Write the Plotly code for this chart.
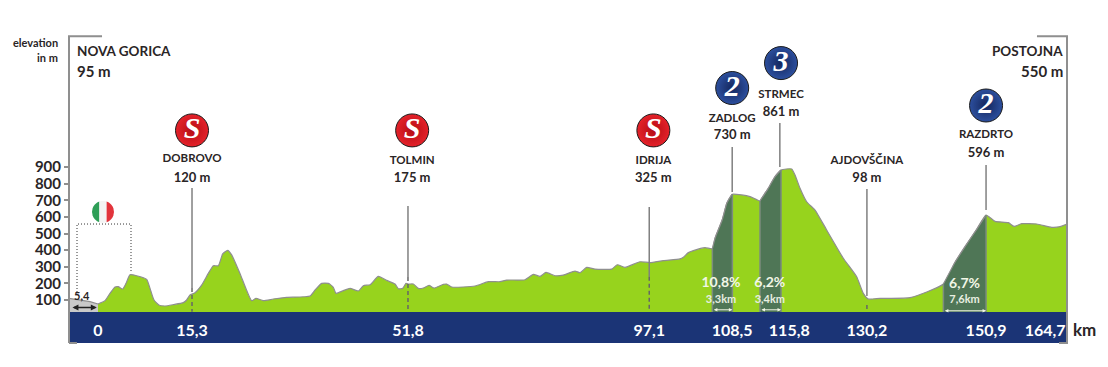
import numpy as np
import plotly.graph_objects as go

# ---- data ----
neutral_km = [-4.93, -3.06, -1.36, 0.0]
neutral_elev = [110, 100, 90, 76]

profile_km = [0.0, 1.19, 2.04, 2.89, 3.45, 4.19, 4.76, 5.44, 6.57, 8.27, 8.84, 9.52, 10.42, 11.39, 12.8, 14.5, 15.07,
              15.64, 16.49, 17.62, 18.75, 19.6, 20.45, 21.19, 22.04, 22.72, 24.13, 26.12, 26.85, 28.1, 29.8, 32.07,
              36.04, 36.89, 38.02, 39.16, 40.0, 40.46, 41.7, 42.84, 44.26, 45.1, 46.24, 47.65, 49.07, 50.49, 51.05,
              51.79, 52.36, 52.75, 53.6, 54.45, 55.3, 56.27, 57.12, 58.7, 59.27, 60.12, 64.09, 66.35, 68.34, 69.47,
              72.58, 74.0, 75.14, 76.15, 77.68, 79.1, 81.08, 81.93, 83.07, 84.49, 87.32, 88.28, 89.58, 92.13, 93.83,
              96.1, 98.93, 99.5, 100.35, 101.2, 103.18, 104.43, 104.9, 106.1, 106.9, 107.6, 107.83, 109.41, 110.83,
              112.53, 112.81, 113.77, 115.08, 116.1, 117.91, 118.48, 119.33, 120.46, 121.88, 123.86, 126.69, 128.96,
              130.09, 130.94, 132.93, 138.03, 143.7, 145.68, 147.38, 149.36, 150.95, 152.48, 154.74, 155.71, 157.01,
              159.56, 162.11, 163.53, 164.71]
profile_elev = [76, 96, 140, 178, 180, 166, 200, 252, 246, 224, 170, 100, 68, 64, 72, 84, 100,
                130, 144, 190, 260, 306, 306, 377, 399, 371, 260, 96, 110, 96, 106, 116,
                124, 160, 200, 200, 176, 140, 156, 170, 154, 186, 192, 242, 218, 196, 168,
                170, 200, 196, 196, 170, 172, 188, 172, 194, 196, 178, 184, 210, 210, 220,
                222, 254, 242, 266, 246, 250, 274, 264, 296, 286, 286, 312, 296, 330, 325,
                337, 347, 357, 385, 397, 415, 409, 473, 581, 683, 726, 736, 732, 722,
                696, 712, 762, 842, 882, 888, 852, 772, 691, 641, 521, 351, 240,
                140, 106, 110, 114, 196, 327, 421, 525, 611, 573, 565, 543, 559,
                557, 537, 541, 557]

climb_ranges = [(104.43, 107.83), (112.53, 116.1), (143.7, 150.95)]
climb_pct = ["10,8%", "6,2%", "6,7%"]
climb_len = ["3,3km", "3,4km", "7,6km"]
climb_label_x = [105.9, 114.2, 147.3]
climb_pct_y = [197, 197, 191]
climb_len_y = [99, 99, 100]
climb_arrow_y = [41, 41, 35]

tick_pos = [0, 15.98, 52.69, 93.7, 107.8, 117.5, 130.7, 150.95, 161.0]
tick_text = ["0", "15,3", "51,8", "97,1", "108,5", "115,8", "130,2", "150,9", "164,7"]
elev_ticks = [100, 200, 300, 400, 500, 600, 700, 800, 900]

place_names = ["DOBROVO", "TOLMIN", "IDRIJA", "ZADLOG", "STRMEC", "AJDOVŠČINA", "RAZDRTO"]
place_heights = ["120 m", "175 m", "325 m", "730 m", "861 m", "98 m", "596 m"]
place_x = [15.98, 53.4, 94.4, 107.8, 116.1, 130.7, 150.95]
name_y = [945, 935, 935, 1185, 1335, 935, 1090]
height_y = [830, 830, 830, 1085, 1225, 830, 980]

line_x = [15.98, 52.69, 93.7, 107.8, 115.9, 130.7, 150.95]
line_top = [774, 665, 660, 1020, 1165, 768, 912]
line_bottom = [172, 238, 240, 750, 900, 124, 641]
dash_x = [15.98, 52.69, 93.7, 130.7]
dash_top = [172, 238, 240, 70]
dash_bottom = [30, 30, 40, 40]

badge_x = [15.98, 53.4, 94.4, 107.8, 116.1, 150.95]
badge_y = [1120, 1120, 1120, 1375, 1525, 1270]
badge_text = ["S", "S", "S", "2", "3", "2"]
badge_color = ["#e5222a", "#e5222a", "#e5222a", "#2c4f9e", "#2c4f9e", "#2c4f9e"]
badge_edge = ["#b40d14", "#b40d14", "#b40d14", "#14265c", "#14265c", "#14265c"]

box_x = [-3.57, -3.57, 5.61, 5.61]
box_y = [130, 557, 557, 262]

INK = "#2a2526"
GRAY = "#8f8f8f"
FONT = "Lato"
km = np.array(profile_km)
elev = np.array(profile_elev)

fig = go.Figure()
fig.add_trace(go.Scatter(x=neutral_km, y=neutral_elev, mode="lines", fill="tozeroy", fillcolor="#c9c9c9",
                         line=dict(color=GRAY, width=1.2)))
fig.add_trace(go.Scatter(x=km, y=elev, mode="lines", fill="tozeroy", fillcolor="#97d31d",
                         line=dict(color=GRAY, width=1.2, shape="spline", smoothing=0.5)))
for lo, hi in climb_ranges:
    m = (km >= lo) & (km <= hi)
    fig.add_trace(go.Scatter(x=km[m], y=elev[m], mode="lines", fill="tozeroy", fillcolor="#4f7656",
                             line=dict(color=GRAY, width=1.2, shape="spline", smoothing=0.5)))
    for edge in (lo, hi):
        fig.add_trace(go.Scatter(x=[edge, edge], y=[0, elev[km == edge][0]], mode="lines",
                                 line=dict(color="#7b8b7e", width=1.5)))

for x, t, b in zip(line_x, line_top, line_bottom):
    fig.add_trace(go.Scatter(x=[x, x], y=[t, b], mode="lines", line=dict(color="#808080", width=1.5)))
for x, t, b in zip(dash_x, dash_top, dash_bottom):
    fig.add_trace(go.Scatter(x=[x, x], y=[t, b], mode="lines", line=dict(color="#666666", width=1.5, dash="4px,3px")))
fig.add_trace(go.Scatter(x=box_x, y=box_y, mode="lines", line=dict(color="#333333", width=1, dash="1px,2px")))

fig.add_trace(go.Scatter(x=badge_x, y=badge_y, mode="markers+text", text=badge_text, textposition="middle center",
                         marker=dict(size=33, color=badge_color, line=dict(color="#1a1a1a", width=1),
                                     gradient=dict(type="radial", color=badge_edge)),
                         textfont=dict(family="Liberation Serif", size=30, color="white", weight="bold", style="italic")))
fig.add_trace(go.Scatter(x=place_x, y=name_y, mode="text", text=place_names,
                         textfont=dict(family=FONT, size=11.5, color=INK, weight="bold")))
fig.add_trace(go.Scatter(x=place_x, y=height_y, mode="text", text=place_heights,
                         textfont=dict(family=FONT, size=13, color=INK, weight="bold")))
fig.add_trace(go.Scatter(x=climb_label_x, y=climb_pct_y, mode="text", text=climb_pct,
                         textfont=dict(family=FONT, size=14, color="#f2f7e6", weight="bold")))
fig.add_trace(go.Scatter(x=climb_label_x, y=climb_len_y, mode="text", text=climb_len,
                         textfont=dict(family=FONT, size=11, color="#e8efe0", weight="bold")))

ann = []
def label(x, y, text, size, anchor="center", xref="x", yref="y"):
    ann.append(dict(x=x, y=y, xref=xref, yref=yref, text=text, showarrow=False, xanchor=anchor, yanchor="middle",
                    font=dict(family=FONT, size=size, color=INK, weight="bold")))

label(-3.95, 1600, "NOVA GORICA", 13.5, "left")
label(-3.95, 1480, "95 m", 15, "left")
label(164.3, 1600, "POSTOJNA", 13.5, "right")
label(164.3, 1480, "550 m", 15, "right")
label(-0.009, 0.864, "elevation", 11, "right", "paper", "paper")
label(-0.009, 0.815, "in m", 11, "right", "paper", "paper")
label(1.018, -0.0545, "km", 17, "center", "paper", "paper")
label(-2.7, 130, "5,4", 11)

for (lo, hi), yv in zip(climb_ranges, climb_arrow_y):
    ann.append(dict(x=hi, y=yv, ax=lo, ay=yv, xref="x", yref="y", axref="x", ayref="y", text="", showarrow=True,
                    arrowhead=2, arrowside="end+start", arrowsize=0.7, arrowwidth=1, arrowcolor="#f2f7e6"))
ann.append(dict(x=-0.2, y=55, ax=-4.6, ay=55, xref="x", yref="y", axref="x", ayref="y", text="", showarrow=True,
                arrowhead=2, arrowside="end+start", arrowsize=0.8, arrowwidth=1.5, arrowcolor="#222222"))

def disc_part(x0, x1, r=11):
    """Slice of a disc between two horizontal pixel offsets, as a pixel path."""
    xs = np.linspace(x0, x1, 14)
    top = np.sqrt(np.maximum(r * r - xs * xs, 0))
    pts = list(zip(xs, top)) + list(zip(xs[::-1], -top[::-1]))
    return "M" + " L".join(f"{a:.2f} {b:.2f}" for a, b in pts) + " Z"

FLAG_X, FLAG_Y = 0.85, 630
shapes = [dict(type="path", path=disc_part(a, b), xsizemode="pixel", ysizemode="pixel", xanchor=FLAG_X, yanchor=FLAG_Y,
               xref="x", yref="y", fillcolor=c, line=dict(width=0), layer="above")
          for a, b, c in [(-11, -3.6, "#2e9e57"), (-3.6, 3.6, "#f4f4f4"), (3.6, 11, "#e2343c")]]
# navy distance band and page frame
shapes.append(dict(type="rect", xref="x", yref="paper", x0=-4.93, x1=164.71, y0=-0.0994, y1=0,
                   fillcolor="#1b3476", line=dict(width=0), layer="below"))
frame = dict(type="path", xref="paper", yref="paper", line=dict(color=GRAY, width=2), layer="above")
shapes.append({**frame, "path": "M 0 -0.0994 L 0 0.884 L 0.0331 0.884"})
shapes.append({**frame, "path": "M 0 -0.0994 L 0.008 -0.0994"})
shapes.append({**frame, "path": "M 0.9699 0.884 L 1 0.884 L 1 -0.0994 L 0.992 -0.0994"})

fig.update_layout(
    width=1108, height=367, showlegend=False, paper_bgcolor="white", plot_bgcolor="white",
    margin=dict(l=69, r=41, t=0, b=55), shapes=shapes, annotations=ann,
    xaxis=dict(range=[-4.93, 164.71], showgrid=False, zeroline=False, showline=False, tickmode="array",
               tickvals=tick_pos, ticktext=tick_text, ticks="", ticklabelstandoff=7,
               tickfont=dict(family=FONT, size=16, color="white", weight="bold")),
    yaxis=dict(range=[27.8, 1904.5], showgrid=False, zeroline=False, showline=False, tickmode="array",
               tickvals=elev_ticks, ticks="outside", ticklen=4, tickwidth=2, tickcolor=GRAY,
               tickfont=dict(family=FONT, size=15, color=INK, weight="bold")),
)
fig.write_html("out.html", post_script="document.body.style.margin='0';", config=dict(displayModeBar=False))
